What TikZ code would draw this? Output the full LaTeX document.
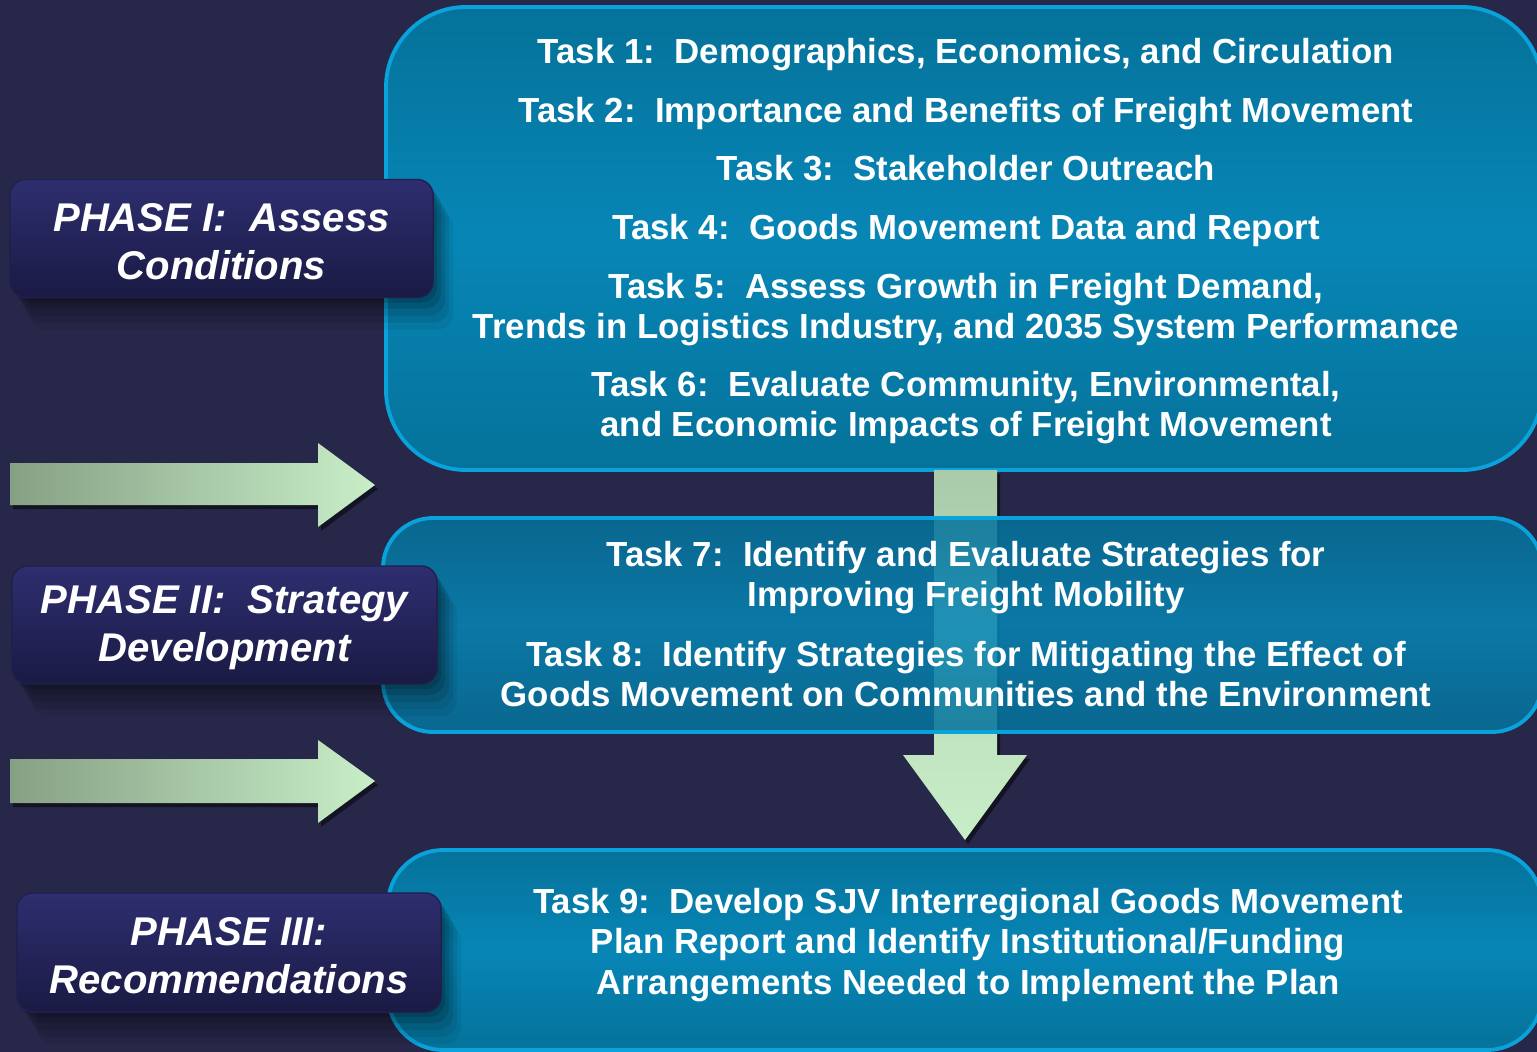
\documentclass[tikz,border=0pt]{standalone}
\usepackage{fontspec}
\setmainfont{Liberation Sans}
\usetikzlibrary{shadows}
\definecolor{bgnavy}{HTML}{27274A}
\definecolor{tasktop}{HTML}{05729A}
\definecolor{taskmid}{HTML}{0786B6}
\definecolor{taskedge}{HTML}{0AA2DA}
\definecolor{phasetop}{HTML}{2E2E70}
\definecolor{phasebot}{HTML}{1A1A44}
\definecolor{arrowdark}{HTML}{86A084}
\definecolor{arrowlight}{HTML}{C8EEC8}
\tikzset{
	taskbox/.style={draw=taskedge, line width=1.1pt, top color=tasktop, bottom color=tasktop, middle color=taskmid},
	tasktext/.style={text=white, align=center, font=\fontsize{9.9}{11.4}\selectfont\bfseries},
	phasebox/.style={rounded corners=0.16cm, top color=phasetop, bottom color=phasebot, draw=phasetop!70!black, line width=0.4pt,
		minimum width=4.23cm, minimum height=1.18cm, text=white, align=center,
		font=\fontsize{11.4}{13.7}\selectfont\bfseries\itshape,
		drop shadow={shadow xshift=0.2cm, shadow yshift=-0.32cm, opacity=0.06, fill=black},
		drop shadow={shadow xshift=0.16cm, shadow yshift=-0.25cm, opacity=0.08, fill=black},
		drop shadow={shadow xshift=0.12cm, shadow yshift=-0.18cm, opacity=0.1, fill=black},
		drop shadow={shadow xshift=0.08cm, shadow yshift=-0.11cm, opacity=0.12, fill=black},
		drop shadow={shadow xshift=0.04cm, shadow yshift=-0.05cm, opacity=0.15, fill=black}},
	phaselabel/.style={text=white, align=center, font=\fontsize{11.4}{13.7}\selectfont\bfseries\itshape},
	flowarrow/.style={left color=arrowdark, right color=arrowlight,
		drop shadow={shadow xshift=0.03cm, shadow yshift=-0.04cm, opacity=0.5, fill=black}}
}
\begin{document}
\begin{tikzpicture}[x=0.01cm, y=-0.01cm]
	%background
	\useasboundingbox (0,0) rectangle (1537,1052);
	\clip (0,0) rectangle (1537,1052);
	\fill[bgnavy] (0,0) rectangle (1537,1052);
	%Task boxes
	\path[taskbox, rounded corners=0.8cm] (386,7) rectangle (1542,470);
	\path[flowarrow, top color=arrowdark!45!arrowlight, bottom color=arrowlight]
		(934,470) -- (997,470) -- (997,755) -- (1027,755) -- (965,840) -- (903,755) -- (934,755) -- cycle;
	\path[taskbox, rounded corners=0.5cm, fill opacity=0.86] (383,518) rectangle (1542,732);
	\path[taskbox, rounded corners=0.55cm] (388,850) rectangle (1542,1050);
	%Tasks
	\node[tasktext] (t1) at (966,55) {Task 1:\ \ Demographics, Economics, and Circulation};
	\node[tasktext] (t2) at (966,114) {Task 2:\ \ Importance and Benefits of Freight Movement};
	\node[tasktext] (t3) at (966,168) {Task 3:\ \ Stakeholder Outreach};
	\node[tasktext] (t4) at (966,231) {Task 4:\ \ Goods Movement Data and Report};
	\node[tasktext] (t5) at (966,310) {Task 5:\ \ Assess Growth in Freight Demand,\\Trends in Logistics Industry, and 2035 System Performance};
	\node[tasktext] (t6) at (966,408) {Task 6:\ \ Evaluate Community, Environmental,\\and Economic Impacts of Freight Movement};
	\node[tasktext] (t7) at (966,578) {Task 7:\ \ Identify and Evaluate Strategies for\\Improving Freight Mobility};
	\node[tasktext] (t8) at (966,674) {Task 8:\ \ Identify Strategies for Mitigating the Effect of\\Goods Movement on Communities and the Environment};
	\node[tasktext] (t9) at (968,945) {Task 9:\ \ Develop SJV Interregional Goods Movement\\Plan Report and Identify Institutional/Funding\\Arrangements Needed to Implement the Plan};
	%Phase arrows
	\path[flowarrow] (10,463) -- (318,463) -- (318,443) -- (375,485) -- (318,527) -- (318,505) -- (10,505) -- cycle;
	\path[flowarrow] (10,759) -- (318,759) -- (318,740) -- (375,781) -- (318,823) -- (318,803) -- (10,803) -- cycle;
	%Phases
	\node[phasebox] (p1) at (221.5,238.5) {};
	\node[phasebox, minimum width=4.25cm] (p2) at (224.5,625) {};
	\node[phasebox, minimum width=4.24cm, minimum height=1.19cm] (p3) at (229,952.5) {};
	\node[phaselabel] (p1text) at ([yshift=-0.03cm]p1.center) {PHASE I:\ \ Assess\\Conditions};
	\node[phaselabel] (p2text) at ([yshift=-0.03cm]p2.center) {PHASE II:\ \ Strategy\\Development};
	\node[phaselabel] (p3text) at ([yshift=-0.03cm]p3.center) {PHASE III:\\Recommendations};
\end{tikzpicture}
\end{document}
